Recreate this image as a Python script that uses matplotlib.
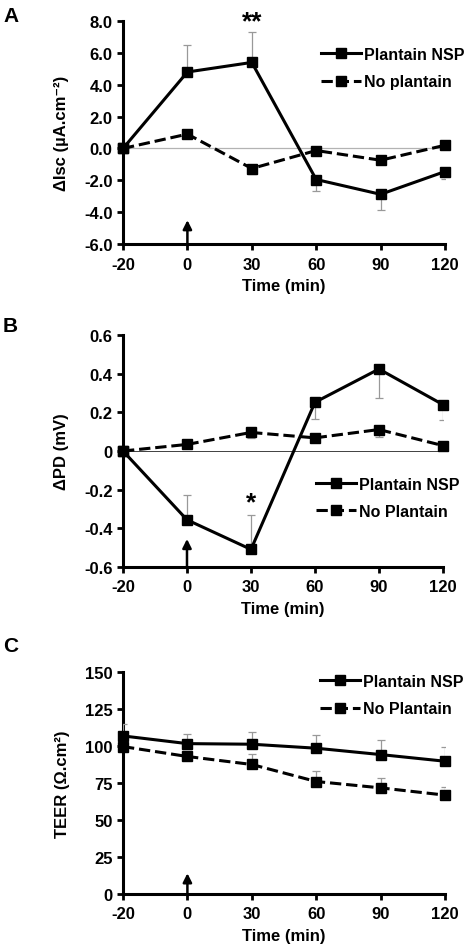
import numpy as np
import matplotlib
matplotlib.use('Agg')
import matplotlib.pyplot as plt

plt.rcParams['font.family'] = ['Liberation Sans', 'DejaVu Sans']
plt.rcParams['font.weight'] = 'bold'

# time points (evenly spaced categories on the x axis)
times = ['-20', '0', '30', '60', '90', '120']

# panel A - short circuit current
isc_nsp = [0.0, 4.8, 5.4, -1.95, -2.88, -1.45]
isc_nsp_lo = [0.0, 0.0, 0.0, 0.7, 1.0, 0.45]
isc_nsp_hi = [0.0, 1.7, 1.9, 0.0, 0.0, 0.0]
isc_none = [0.0, 0.9, -1.26, -0.13, -0.74, 0.2]
isc_none_lo = [0.0, 0.0, 0.35, 0.0, 0.1, 0.0]
isc_none_hi = [0.0, 0.1, 0.0, 0.0, 0.0, 0.1]

# panel B - potential difference
pd_nsp = [0.0, -0.356, -0.509, 0.252, 0.424, 0.240]
pd_nsp_lo = [0.0, 0.0, 0.0, 0.086, 0.15, 0.082]
pd_nsp_hi = [0.0, 0.126, 0.176, 0.0, 0.0, 0.0]
pd_none = [0.0, 0.034, 0.096, 0.068, 0.111, 0.028]
pd_none_lo = [0.0, 0.0, 0.03, 0.0, 0.036, 0.0]
pd_none_hi = [0.0, 0.0, 0.0, 0.0, 0.0, 0.0]

# panel C - TEER
teer_nsp = [106.8, 101.6, 101.2, 98.5, 94.2, 89.7]
teer_nsp_err = [8.0, 6.8, 8.2, 9.2, 10.0, 9.9]
teer_none = [99.6, 92.9, 87.5, 76.0, 71.7, 66.8]
teer_none_err = [0.0, 2.0, 7.2, 7.4, 6.6, 5.4]

x = np.arange(len(times))

fig = plt.figure(figsize=(4.74, 9.53), dpi=100)


def style_axes(ax, ylim, yticks, yticklabels, ylabel):
    ax.set_xlim(0, len(times) - 1)
    ax.set_ylim(*ylim)
    ax.set_xticks(x)
    ax.set_xticklabels(times)
    ax.set_yticks(yticks)
    ax.set_yticklabels(yticklabels)
    ax.spines['top'].set_visible(False)
    ax.spines['right'].set_visible(False)
    for s in ['left', 'bottom']:
        ax.spines[s].set_linewidth(2.2)
    ax.tick_params(width=2.0, length=4, labelsize=12)
    ax.tick_params(axis='x', pad=5)
    ax.set_xlabel('Time (min)', fontsize=12, fontweight='bold', labelpad=5)
    ax.set_ylabel(ylabel, fontsize=12, fontweight='bold', labelpad=11)
    for lab in ax.get_xticklabels() + ax.get_yticklabels():
        lab.set_fontweight('bold')


def draw_series(ax, y, lo, hi, ls, label):
    ax.errorbar(x, y, yerr=[lo, hi], fmt='none', ecolor='0.6', elinewidth=0.9,
                capsize=3, capthick=0.9, zorder=3)
    ax.plot(x, y, ls=ls, color='black', lw=2.2, marker='s', markersize=7,
            label=label, zorder=4, clip_on=False)


def arrow(ax, y0, y1):
    ax.annotate('', xy=(1, y1), xytext=(1, y0),
                arrowprops=dict(arrowstyle='-|>', color='black', lw=1.8,
                                mutation_scale=13, shrinkA=0, shrinkB=0))


def add_legend(ax, fx, fy):
    ax.legend(loc='upper left', bbox_to_anchor=(fx, fy), bbox_transform=fig.transFigure,
              frameon=False, fontsize=11.5, handlelength=2.5, handletextpad=0.2,
              labelspacing=0.78)


# ---- A ----
axA = fig.add_axes([0.2595, 0.7429, 0.6793, 0.234])
axA.axhline(0, color='0.7', lw=0.9, zorder=1)
draw_series(axA, isc_nsp, isc_nsp_lo, isc_nsp_hi, '-', 'Plantain NSP')
draw_series(axA, isc_none, isc_none_lo, isc_none_hi, '--', 'No plantain')
style_axes(axA, (-6, 8), np.arange(-6, 9, 2),
           ['%.1f' % v for v in np.arange(-6, 9, 2)], 'ΔIsc (µA.cm⁻²)')
arrow(axA, -6, -4.5)
axA.text(2, 8.0, '**', ha='center', va='center', fontsize=19, fontweight='bold')
add_legend(axA, 0.647, 0.965)

# ---- B ----
axB = fig.add_axes([0.2595, 0.404, 0.675, 0.2434])
axB.axhline(0, color='0.25', lw=0.7, zorder=1)
draw_series(axB, pd_nsp, pd_nsp_lo, pd_nsp_hi, '-', 'Plantain NSP')
draw_series(axB, pd_none, pd_none_lo, pd_none_hi, '--', 'No Plantain')
bt = [-0.6, -0.4, -0.2, 0, 0.2, 0.4, 0.6]
style_axes(axB, (-0.6, 0.6), bt, ['-0.6', '-0.4', '-0.2', '0', '0.2', '0.4', '0.6'],
           'ΔPD (mV)')
arrow(axB, -0.6, -0.455)
axB.text(2, -0.265, '*', ha='center', va='center', fontsize=19, fontweight='bold')
add_legend(axB, 0.636, 0.514)

# ---- C ----
axC = fig.add_axes([0.2595, 0.0609, 0.6793, 0.2329])
draw_series(axC, teer_nsp, [0] * 6, teer_nsp_err, '-', 'Plantain NSP')
draw_series(axC, teer_none, [0] * 6, teer_none_err, '--', 'No Plantain')
ct = np.arange(0, 151, 25)
style_axes(axC, (0, 150), ct, [str(v) for v in ct], 'TEER (Ω.cm²)')
arrow(axC, 0, 14)
add_legend(axC, 0.645, 0.307)

# panel letters
fig.text(0.008, 0.983, 'A', fontsize=15, fontweight='bold', va='center')
fig.text(0.006, 0.657, 'B', fontsize=15, fontweight='bold', va='center')
fig.text(0.006, 0.322, 'C', fontsize=15, fontweight='bold', va='center')

fig.savefig('out.png', dpi=100, facecolor='white')
